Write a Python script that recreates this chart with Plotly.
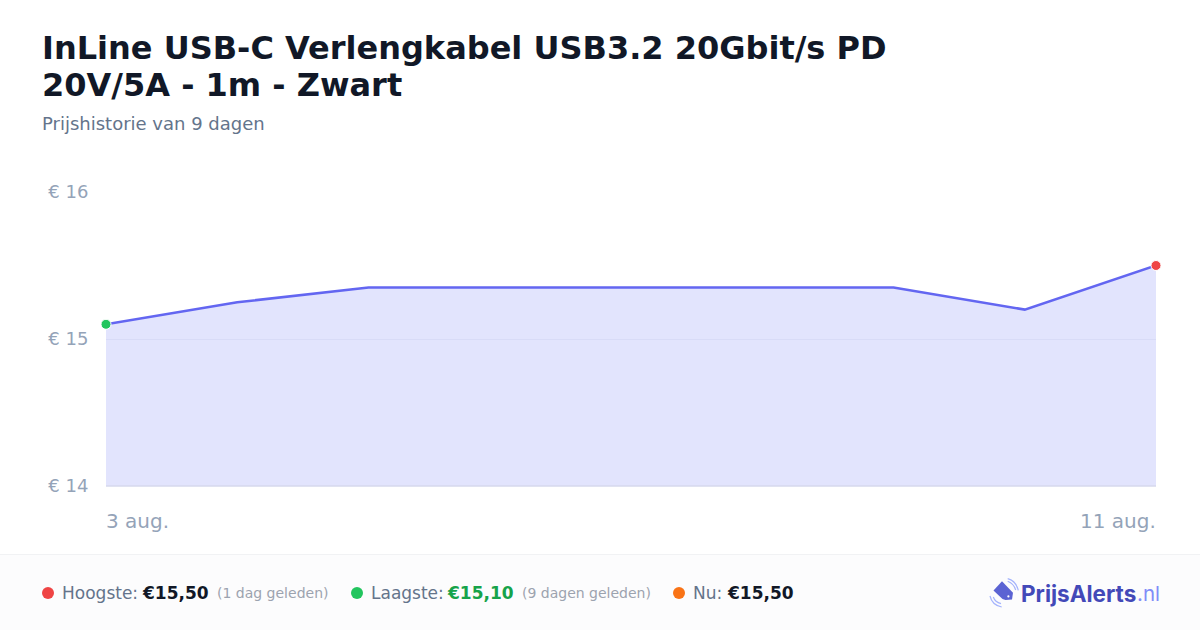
import plotly.graph_objects as go

TITLE_LINES = ["InLine USB-C Verlengkabel USB3.2 20Gbit/s PD", "20V/5A - 1m - Zwart"]
SUBTITLE = "Prijshistorie van 9 dagen"
days = [3, 4, 5, 6, 7, 8, 9, 10, 11]
prices = [15.10, 15.25, 15.35, 15.35, 15.35, 15.35, 15.35, 15.20, 15.50]
y_ticks = [14, 15, 16]
y_labels = ["€ 14", "€ 15", "€ 16"]
x_labels = ["3 aug.", "11 aug."]

L, R, T, B = 106, 1156, 192, 486
FONT = "DejaVu Sans"


def px(x):
    return (x - L) / (R - L)


def py(y):
    return (B - y) / (B - T)


def svg(points):
    out = []
    for p in points:
        if isinstance(p, str):
            out.append(p)
        else:
            out.append(f"{px(p[0]):.5f},{py(p[1]):.5f}")
    return " ".join(out)


fig = go.Figure()
fig.add_trace(go.Scatter(
    x=days, y=prices, mode="lines", fill="tozeroy",
    fillcolor="rgba(129,140,248,0.23)",
    line=dict(color="#6366f1", width=2.5),
    hoverinfo="skip", showlegend=False, cliponaxis=False,
))
fig.add_trace(go.Scatter(
    x=[days[0]], y=[prices[0]], mode="markers",
    marker=dict(color="#22c55e", size=10, line=dict(color="#ffffff", width=1)),
    hoverinfo="skip", showlegend=False, cliponaxis=False,
))
fig.add_trace(go.Scatter(
    x=[days[-1]], y=[prices[-1]], mode="markers",
    marker=dict(color="#ef4444", size=10, line=dict(color="#ffffff", width=1)),
    hoverinfo="skip", showlegend=False, cliponaxis=False,
))


def text(x, y, s, size, color, anchor="left", bold=False, family=FONT):
    fig.add_annotation(
        xref="paper", yref="paper", x=px(x), y=py(y), text=f"<b>{s}</b>" if bold else s,
        showarrow=False, xanchor=anchor, yanchor="middle", align=anchor,
        font=dict(family=family, size=size, color=color), borderpad=0, borderwidth=0,
    )


# header
text(42, 48, TITLE_LINES[0], 32, "#111827", bold=True)
text(42, 85, TITLE_LINES[1], 32, "#111827", bold=True)
text(42, 124, SUBTITLE, 18, "#64748b")

# x labels
text(106, 521, x_labels[0], 20, "#94a3b8")
text(1156, 521, x_labels[1], 20, "#94a3b8", anchor="right")

# footer text
text(62, 593, "Hoogste:", 17, "#64748b")
text(142, 593, "€15,50", 17, "#111827", bold=True)
text(217, 593, "(1 dag geleden)", 14, "#9ca3af")
text(370.5, 593, "Laagste:", 17, "#64748b")
text(447, 593, "€15,10", 17, "#16a34a", bold=True)
text(522, 593, "(9 dagen geleden)", 14, "#9ca3af")
text(693, 593, "Nu:", 17, "#64748b")
text(727, 593, "€15,50", 17, "#111827", bold=True)
text(1021, 593, "PrijsAlerts", 22.5, "#4349b8", bold=True, family="Inter")
text(1136.5, 593, ".nl", 20.5, "#818cf8", family="Inter")

shapes = [
    dict(type="rect", xref="paper", yref="paper", x0=px(0), x1=px(1200), y0=py(555), y1=py(630),
         fillcolor="#fcfcfd", line=dict(width=0), layer="below"),
    dict(type="line", xref="paper", yref="paper", x0=px(0), x1=px(1200), y0=py(554.5), y1=py(554.5),
         line=dict(color="#f1f2f4", width=1), layer="below"),
    dict(type="line", xref="paper", yref="paper", x0=px(L), x1=px(R), y0=py(486), y1=py(486),
         line=dict(color="#d6d9ec", width=1.5), layer="above"),
]
for cx, col in [(48, "#ef4444"), (357, "#22c55e"), (679, "#f97316")]:
    shapes.append(dict(type="circle", xref="paper", yref="paper", x0=px(cx - 6), x1=px(cx + 6),
                       y0=py(587), y1=py(599), fillcolor=col, line=dict(width=0)))

# logo
tag = ["M", (1002, 581.3), "L", (1013, 592.7), "L", (1012, 599.5), "L", (1005.5, 600),
       "L", (1002.5, 599), "L", (993.5, 590.5), "Z"]
shapes.append(dict(type="path", xref="paper", yref="paper", path=svg(tag), fillcolor="#5b63d3", line=dict(width=0)))
shapes.append(dict(type="circle", xref="paper", yref="paper", x0=px(1007.3), x1=px(1009.5),
                   y0=py(595.3), y1=py(597.5), fillcolor="#ffffff", line=dict(width=0)))
for arc in (
    ["M", (1007.7, 581.3), "Q", (1014, 584), (1015.7, 590)],
    ["M", (1007.7, 578.7), "Q", (1016, 581), (1018.3, 590.3)],
    ["M", (993.3, 597), "Q", (995, 602), (1001, 603.7)],
    ["M", (990, 596), "Q", (992, 605), (1001.7, 607)],
):
    shapes.append(dict(type="path", xref="paper", yref="paper", path=svg(arc),
                       line=dict(color="#a5b4fc", width=1.2)))

fig.update_layout(
    width=1200, height=630, autosize=False,
    margin=dict(l=L, r=1200 - R, t=T, b=630 - B, pad=0),
    paper_bgcolor="#ffffff", plot_bgcolor="#ffffff",
    font=dict(family=FONT),
    shapes=shapes,
    xaxis=dict(range=[days[0], days[-1]], showgrid=False, zeroline=False, showticklabels=False,
               showline=False, ticks=""),
    yaxis=dict(range=[y_ticks[0], y_ticks[-1]], tickmode="array", tickvals=y_ticks, ticktext=y_labels,
               tickfont=dict(family=FONT, size=18, color="#94a3b8"),
               showgrid=True, gridcolor="#f3f4f7", gridwidth=1.2, zeroline=False, showline=False,
               ticks="outside", ticklen=13, tickcolor="rgba(0,0,0,0)"),
)

fig.write_html("out.html", config=dict(displayModeBar=False),
               post_script="document.body.style.margin='0';document.body.style.background='#fff';")
